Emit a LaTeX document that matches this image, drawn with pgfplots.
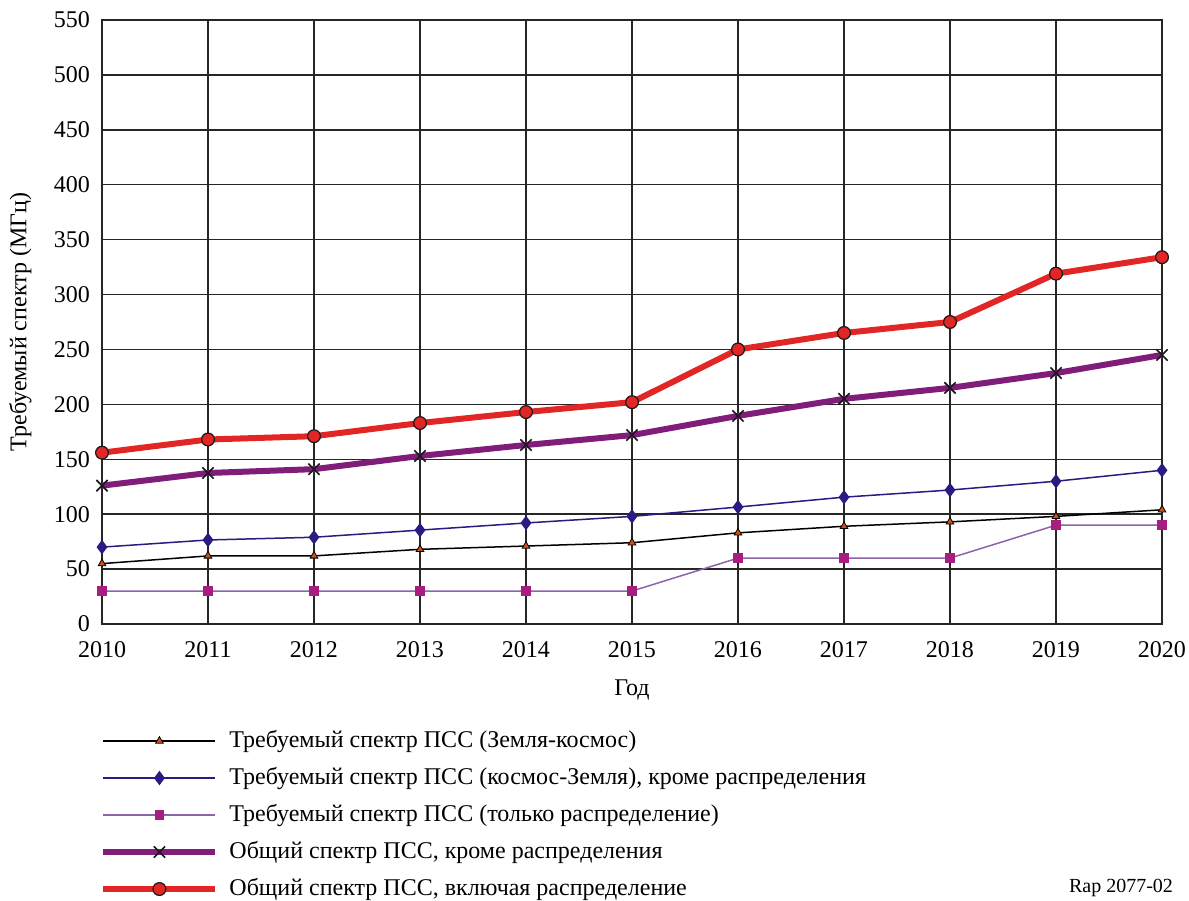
\documentclass[border=0pt]{standalone}
\usepackage{fontspec}
\setmainfont{Liberation Serif}
\usepackage{pgfplots}
\pgfplotsset{compat=1.18}
\definecolor{cred}{RGB}{226,38,38}
\definecolor{cpurple}{RGB}{128,28,122}
\definecolor{cnavy}{RGB}{40,28,130}
\definecolor{cpink}{RGB}{168,30,128}
\definecolor{cpinkline}{RGB}{140,100,172}
\definecolor{corange}{RGB}{210,80,20}
\begin{document}
\begin{tikzpicture}
\useasboundingbox (0,0) rectangle (594.5pt,450pt);
\begin{axis}[
  at={(51pt,138pt)}, anchor=south west,
  scale only axis, width=530pt, height=302pt,
  xmin=2010, xmax=2020, ymin=0, ymax=550,
  xtick={2010,...,2020}, ytick={0,50,...,550},
  xticklabel style={/pgf/number format/1000 sep={}, yshift=-5pt},
  yticklabel style={xshift=-2.5pt},
  /pgf/number format/assume math mode=true,
  major tick length=0pt,
  grid=major,
  major grid style={line width=0.7pt, black!85},
  axis line style={line width=1.2pt, black!85},
  tick label style={font=\fontsize{12}{14}\selectfont},
  label style={font=\fontsize{12}{14}\selectfont},
  xlabel={Год},
  ylabel={Требуемый спектр (МГц)},
  xlabel style={at={(axis description cs:0.5,-0.109)}, anchor=center},
  ylabel style={at={(axis description cs:-0.077,0.5)}, anchor=center},
  legend cell align=left,
  legend style={at={(-0.0075,-0.160)}, anchor=north west, draw=none,
    font=\fontsize{12}{14}\selectfont,
    nodes={inner sep=2pt, text height=9pt, text depth=3pt},
    row sep=2.5pt,
    /tikz/every odd column/.append style={column sep=3.5pt}},
  legend image code/.code={\draw[mark repeat=2,mark phase=2,#1] plot coordinates {(0pt,0pt) (28pt,0pt) (56pt,0pt)};},
]
\addplot[black, line width=0.75pt, mark=triangle*, mark size=2.2pt, mark options={fill=corange, draw=black, line width=0.4pt}] coordinates {
(2010,55) (2011,62) (2012,62) (2013,68) (2014,71) (2015,74) (2016,83) (2017,89) (2018,93) (2019,98) (2020,104)};
\addlegendentry{Требуемый спектр ПСС (Земля-космос)}
\addplot[cnavy, line width=0.75pt, mark=diamond*, mark size=3pt, mark options={fill=cnavy, draw=cnavy}] coordinates {
(2010,70) (2011,76.5) (2012,79) (2013,85.5) (2014,92) (2015,98) (2016,106.5) (2017,115.5) (2018,122) (2019,130) (2020,140)};
\addlegendentry{Требуемый спектр ПСС (космос-Земля), кроме распределения}
\addplot[cpinkline, line width=0.75pt, mark=square*, mark size=2pt, mark options={fill=cpink, draw=cpink}] coordinates {
(2010,30) (2011,30) (2012,30) (2013,30) (2014,30) (2015,30) (2016,60) (2017,60) (2018,60) (2019,90) (2020,90)};
\addlegendentry{Требуемый спектр ПСС (только распределение)}
\addplot[cpurple, line width=3pt, mark=x, mark size=4pt, mark options={draw=black!90, line width=0.8pt}] coordinates {
(2010,126) (2011,137.5) (2012,141) (2013,153) (2014,163) (2015,172) (2016,189.5) (2017,205) (2018,215) (2019,228.5) (2020,245)};
\addlegendentry{Общий спектр ПСС, кроме распределения}
\addplot[cred, line width=3pt, mark=*, mark size=3.2pt, mark options={fill=cred, draw=black!90, line width=0.6pt}] coordinates {
(2010,156) (2011,168) (2012,171) (2013,183) (2014,193) (2015,202) (2016,250) (2017,265) (2018,275) (2019,319) (2020,334)};
\addlegendentry{Общий спектр ПСС, включая распределение}
\end{axis}
\node[anchor=base east, font=\fontsize{10}{12}\selectfont] at (590pt,4pt) {Rap 2077-02};
\end{tikzpicture}
\end{document}
